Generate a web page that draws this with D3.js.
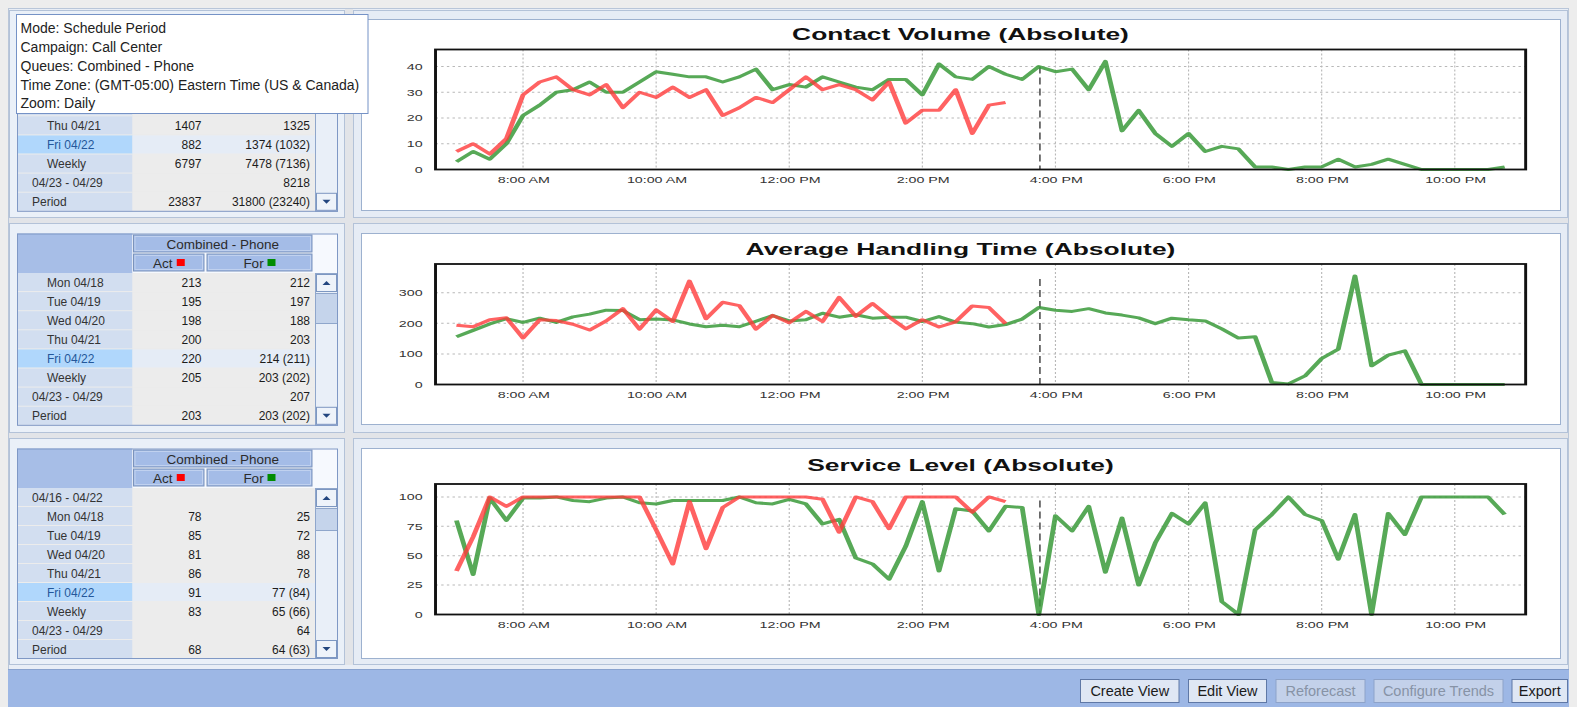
<!DOCTYPE html>
<html>
<head>
<meta charset="utf-8">
<script src="https://cdn.jsdelivr.net/npm/d3@7/dist/d3.min.js"></script>
<style>
  body { margin: 0; background: #ececec; overflow: hidden; }
  svg { display: block; }
</style>
</head>
<body>
<svg id="app" width="1577" height="707"></svg>
<script>
// ---------- data ----------
const firstSlot = "07:00", lastSlot = "22:45";   // 15 minute slots
const nowTime = "15:46";

const cvActual   = [7,10,6,12,29,34,36,31,29,33,24,30,28,32,28,31,21,24,28,26,31,36,31,33,31,27,34,18,23,23,31,14,25,26];
const cvForecast = [3,7,4,10,21,25,30,31,34,30,30,34,38,37,36,36,34,36,39,31,33,32,36,34,32,31,35,35,29,41,36,35,
                    40,37,35,40,38,39,31,42,15,23,14,9,14,7,9,8,1,1,0,1,1,4,1,2,4,2,0,0,0,0,0,1];
const ahtActual   = [194,189,212,218,152,212,209,197,178,208,248,181,244,206,338,215,269,258,181,226,202,239,206,285,
                     223,265,221,182,212,188,205,257,252,199];
const ahtForecast = [156,177,198,215,203,217,203,221,230,243,242,212,214,211,198,189,194,189,207,225,208,212,233,220,
                     228,217,220,220,206,222,204,199,188,196,214,252,243,239,248,234,227,218,199,217,212,208,182,152,
                     156,7,2,28,85,116,355,61,96,110,0,0,0,0,0,0];
const slActual   = [37,66,100,92,100,100,100,100,100,100,100,100,72,43,96,56,91,100,100,100,100,100,98,70,
                    100,96,73,100,100,100,100,87,100,96];
const slForecast = [80,34,99,80,99,99,100,97,96,99,100,95,94,97,97,97,97,100,95,94,98,94,77,81,48,43,30,58,96,37,90,88,
                    71,92,91,0,84,71,92,36,82,25,61,86,77,95,11,0,72,85,100,85,80,47,85,0,86,68,100,100,100,100,100,85];

const chartTitles = ["Contact Volume (Absolute)", "Average Handling Time (Absolute)", "Service Level (Absolute)"];
const cvTicks  = [0,10,20,30,40];
const ahtTicks = [0,100,200,300];
const slTicks  = [0,25,50,75,100];
const xTickLabels = ["8:00 AM","10:00 AM","12:00 PM","2:00 PM","4:00 PM","6:00 PM","8:00 PM","10:00 PM"];
const nowMarkerTop = [40, 345, 97];

const infoLines = ["Mode: Schedule Period", "Campaign: Call Center", "Queues: Combined - Phone",
                   "Time Zone: (GMT-05:00) Eastern Time (US & Canada)", "Zoom: Daily"];

const queueName = "Combined - Phone";
// first three rows of the contact volume table sit under the info box
const cvRowLabels = ["","","","Thu 04/21","Fri 04/22","Weekly","04/23 - 04/29","Period"];
const cvRowAct    = ["","","","1407","882","6797","","23837"];
const cvRowFor    = ["","","","1325","1374 (1032)","7478 (7136)","8218","31800 (23240)"];
const ahtRowLabels = ["Mon 04/18","Tue 04/19","Wed 04/20","Thu 04/21","Fri 04/22","Weekly","04/23 - 04/29","Period"];
const ahtRowAct    = ["213","195","198","200","220","205","","203"];
const ahtRowFor    = ["212","197","188","203","214 (211)","203 (202)","207","203 (202)"];
const slRowLabels = ["04/16 - 04/22","Mon 04/18","Tue 04/19","Wed 04/20","Thu 04/21","Fri 04/22","Weekly","04/23 - 04/29","Period"];
const slRowAct    = ["","78","85","81","86","91","83","","68"];
const slRowFor    = ["","25","72","88","78","77 (84)","65 (66)","64","64 (63)"];

const buttonLabels  = ["Create View","Edit View","Reforecast","Configure Trends","Export"];
const buttonEnabled = [true, true, false, false, true];

// ---------- setup ----------
const FONT = "'Liberation Sans', Arial, sans-serif";
const svg = d3.select("#app");
const parseSlot = d3.timeParse("%H:%M");
const parseTick = d3.timeParse("%I:%M %p");
const slots = d3.timeMinute.every(15).range(parseSlot(firstSlot), new Date(+parseSlot(lastSlot) + 60000));
const xTicks = xTickLabels.map(parseTick);

svg.append("rect").attr("width", 1577).attr("height", 707).attr("fill", "#ededed");
// main container
svg.append("rect").attr("x", 8.5).attr("y", 8.5).attr("width", 1560).attr("height", 662)
  .attr("fill", "#e9eef6").attr("stroke", "#b9c6d9");

const rows = [{top: 10, bottom: 217}, {top: 223, bottom: 432}, {top: 438, bottom: 664}];
rows.forEach(function (r) {
  svg.append("rect").attr("x", 9.5).attr("y", r.top + .5).attr("width", 335).attr("height", r.bottom - r.top)
    .attr("fill", "#eaf0f8").attr("stroke", "#b3c2d8");
  svg.append("rect").attr("x", 353.5).attr("y", r.top + .5).attr("width", 1214).attr("height", r.bottom - r.top)
    .attr("fill", "#e6ecf5").attr("stroke", "#b3c2d8");
});
// dividers
svg.append("rect").attr("x", 345).attr("y", 9).attr("width", 8).attr("height", 656).attr("fill", "#e2e4e8");
[217, 432].forEach(function (y) {
  svg.append("rect").attr("x", 9).attr("y", y + 1).attr("width", 1559).attr("height", 5).attr("fill", "#e2e4e8");
});

// ---------- charts ----------
const sx = 1.62;   // chart images are stretched horizontally
const charts = [
  {title: chartTitles[0], act: cvActual, fc: cvForecast, ticks: cvTicks, box: [361, 19, 1199, 191], top: 30.5, bottom: 40.5, titleY: 21, now: nowMarkerTop[0]},
  {title: chartTitles[1], act: ahtActual, fc: ahtForecast, ticks: ahtTicks, box: [361, 233, 1199, 191], top: 31, bottom: 39.5, titleY: 22.5, now: nowMarkerTop[1]},
  {title: chartTitles[2], act: slActual, fc: slForecast, ticks: slTicks, box: [361, 448, 1199, 210], top: 36, bottom: 43.5, titleY: 23.5, now: nowMarkerTop[2]}
];

charts.forEach(function (c) {
  const [bx, by, bw, bh] = c.box;
  svg.append("rect").attr("x", bx + .5).attr("y", by + .5).attr("width", bw).attr("height", bh)
    .attr("fill", "#fff").attr("stroke", "#9db1cf");

  const W = bw / sx, ml = 46, mr = 21.2;
  const g = svg.append("g").attr("transform", "translate(" + bx + "," + by + ") scale(" + sx + ",1)");

  const t0 = slots[0], t1 = slots[slots.length - 1], pad = (t1 - t0) * 0.02;
  const x = d3.scaleTime().domain([new Date(+t0 - pad), new Date(+t1 + pad)]).range([ml, W - mr]);
  const ymax = d3.max(c.fc.concat(c.act)) * 1.11;
  const y = d3.scaleLinear().domain([0, ymax]).range([bh - c.bottom, c.top]);

  g.append("text").attr("x", W / 2).attr("y", c.titleY).attr("text-anchor", "middle")
    .attr("font-family", FONT).attr("font-weight", "bold").attr("font-size", "16.3px").attr("fill", "#111")
    .text(c.title);

  // grid
  g.selectAll(".vg").data(xTicks).enter().append("line")
    .attr("x1", d => x(d)).attr("x2", d => x(d)).attr("y1", y(ymax)).attr("y2", y(0))
    .attr("stroke", "#b8b8b8").attr("stroke-width", 0.7).attr("stroke-dasharray", "2,2");
  g.selectAll(".hg").data(c.ticks).enter().append("line")
    .attr("x1", x.range()[0]).attr("x2", x.range()[1]).attr("y1", d => y(d)).attr("y2", d => y(d))
    .attr("stroke", "#b8b8b8").attr("stroke-width", 1).attr("stroke-dasharray", "1.5,2");

  // axes
  const xa = g.append("g").attr("transform", "translate(0," + y(0) + ")")
    .call(d3.axisBottom(x).tickValues(xTicks).tickFormat((d, i) => xTickLabels[i]).tickSize(0).tickPadding(7));
  const ya = g.append("g").attr("transform", "translate(" + ml + ",0)")
    .call(d3.axisLeft(y).tickValues(c.ticks).tickSize(0).tickPadding(8));
  [xa, ya].forEach(function (a) {
    a.select(".domain").remove();
    a.selectAll("text").attr("font-family", FONT).attr("font-size", "8.8px").attr("fill", "#333");
  });

  // current time marker
  const tn = parseSlot(nowTime);
  g.append("line").attr("x1", x(tn)).attr("x2", x(tn)).attr("y1", y(c.now)).attr("y2", y(0))
    .attr("stroke", "#555").attr("stroke-width", 1).attr("stroke-dasharray", "7,4");

  const line = d3.line().x((d, i) => x(slots[i])).y(d => y(d));
  g.append("path").datum(c.fc).attr("d", line).attr("fill", "none")
    .attr("stroke", "#3a9a3a").attr("stroke-opacity", 0.85).attr("stroke-width", 3).attr("stroke-linejoin", "round");
  g.append("path").datum(c.act).attr("d", line).attr("fill", "none")
    .attr("stroke", "#ff3b3b").attr("stroke-opacity", 0.8).attr("stroke-width", 3).attr("stroke-linejoin", "round");

  // frame
  g.append("rect").attr("x", ml).attr("y", y(ymax)).attr("width", W - mr - ml).attr("height", y(0) - y(ymax))
    .attr("fill", "none").attr("stroke", "#111").attr("stroke-width", 1.8);
});

// ---------- tables ----------
function drawTable(top, labels, act, fcs, opt) {
  const g = svg.append("g");
  const L = 17, C1 = 132.5, C2 = 315, R = 338, hh = 39.5, rh = opt.rowH;
  const h = hh + labels.length * rh;

  g.append("rect").attr("x", L).attr("y", top).attr("width", R - L).attr("height", h).attr("fill", "#ececec");
  // header
  g.append("rect").attr("x", L).attr("y", top).attr("width", C1 - L).attr("height", hh).attr("fill", "#a7bee7");
  g.append("rect").attr("x", C1).attr("y", top).attr("width", R - C1).attr("height", hh).attr("fill", "#f6f9fe");
  if (opt.header) {
    const hb = [[C1 + 1, top + 1.5, 178.5, 17, queueName, null],
                [C1 + 1, top + 20.5, 70.5, 17, "Act", "#ff0000"],
                [C1 + 74.5, top + 20.5, 105, 17, "For", "#008c00"]];
    hb.forEach(function (b) {
      g.append("rect").attr("x", b[0]).attr("y", b[1]).attr("width", b[2]).attr("height", b[3])
        .attr("fill", "#a4bce7").attr("stroke", "#7b93bb");
      g.append("rect").attr("x", b[0] + 1.5).attr("y", b[1] + 1.5).attr("width", b[2] - 3).attr("height", b[3] - 3)
        .attr("fill", "none").attr("stroke", "#c7d6f0").attr("stroke-width", 0.8);
      const tx = b[5] ? b[0] + b[2] / 2 - 6 : b[0] + b[2] / 2;
      g.append("text").attr("x", tx).attr("y", b[1] + 13.5).attr("text-anchor", "middle")
        .attr("font-family", FONT).attr("font-size", "13.5px").attr("fill", "#2b2b2b").text(b[4]);
      if (b[5]) {
        g.append("rect").attr("x", tx + 14).attr("y", b[1] + 5).attr("width", 8).attr("height", 7).attr("fill", b[5]);
      }
    });
  }

  labels.forEach(function (lab, i) {
    const ry = top + hh + i * rh, hl = (i === opt.hl);
    g.append("rect").attr("x", L).attr("y", ry).attr("width", C1 - L).attr("height", rh - 1)
      .attr("fill", hl ? "#b0d7fc" : "#d2def0");
    g.append("rect").attr("x", C1).attr("y", ry).attr("width", C2 - C1).attr("height", rh - 1)
      .attr("fill", hl ? "#e5ecf6" : "#ececec");
    if (lab) {
      g.append("text").attr("x", opt.levels[i] ? 47 : 32).attr("y", ry + 13.5)
        .attr("font-family", FONT).attr("font-size", "12px").attr("fill", hl ? "#24579a" : "#333").text(lab);
    }
    if (act[i]) {
      g.append("text").attr("x", 201.5).attr("y", ry + 13.5).attr("text-anchor", "end")
        .attr("font-family", FONT).attr("font-size", "12px").attr("fill", "#1c1c1c").text(act[i]);
    }
    if (fcs[i]) {
      g.append("text").attr("x", 310).attr("y", ry + 13.5).attr("text-anchor", "end")
        .attr("font-family", FONT).attr("font-size", "12px").attr("fill", "#1c1c1c").text(fcs[i]);
    }
  });

  // scrollbar
  const sTop = top + hh, sBot = top + h;
  g.append("rect").attr("x", C2 + .5).attr("y", sTop + .5).attr("width", R - C2 - 1).attr("height", sBot - sTop - 1)
    .attr("fill", "#e9eff8").attr("stroke", "#8fa6cb");
  g.append("rect").attr("x", C2 + .5).attr("y", opt.thumb[0] + .5).attr("width", R - C2 - 1).attr("height", opt.thumb[1])
    .attr("fill", "#c5d4eb").attr("stroke", "#8fa6cb");
  [[sTop + .5, "M-4,2 L4,2 L0,-2 Z"], [sBot - 19.5, "M-4,-2 L4,-2 L0,2 Z"]].forEach(function (b) {
    g.append("rect").attr("x", C2 + 1.5).attr("y", b[0] + 1).attr("width", R - C2 - 3).attr("height", 17)
      .attr("fill", "#eef3fa").attr("stroke", "#7d97c1");
    g.append("path").attr("d", b[1]).attr("fill", "#23467f")
      .attr("transform", "translate(" + ((C2 + R) / 2) + "," + (b[0] + 9.5) + ")");
  });
  g.append("rect").attr("x", L + .5).attr("y", top + .5).attr("width", R - L - 1).attr("height", h - 1)
    .attr("fill", "none").attr("stroke", "#7f98c5");
}

drawTable(19.5, cvRowLabels, cvRowAct, cvRowFor, {rowH: 19.1, hl: 4, header: false, levels: [1,1,1,1,1,1,0,0], thumb: [78, 30]});
drawTable(233.5, ahtRowLabels, ahtRowAct, ahtRowFor, {rowH: 19.1, hl: 4, header: true, levels: [1,1,1,1,1,1,0,0], thumb: [293, 30]});
drawTable(448.5, slRowLabels, slRowAct, slRowFor, {rowH: 19, hl: 5, header: true, levels: [0,1,1,1,1,1,1,0,0], thumb: [508, 22]});

// ---------- info tooltip ----------
svg.append("rect").attr("x", 16.5).attr("y", 14.5).attr("width", 351.5).attr("height", 99)
  .attr("fill", "#fff").attr("stroke", "#7592c6");
svg.selectAll(".info").data(infoLines).enter().append("text")
  .attr("x", 20.5).attr("y", (d, i) => 33.3 + i * 18.75)
  .attr("font-family", FONT).attr("font-size", "14px").attr("fill", "#222").text(d => d);

// ---------- toolbar ----------
svg.append("rect").attr("x", 8).attr("y", 669).attr("width", 1561).attr("height", 38).attr("fill", "#9db7e5");
svg.append("line").attr("x1", 8).attr("x2", 1569).attr("y1", 669.5).attr("y2", 669.5).attr("stroke", "#8aa3cf");
const btnX = [1080, 1188, 1275.5, 1373.5, 1511.5], btnW = [98.5, 78, 89, 129, 55.5];
buttonLabels.forEach(function (lab, i) {
  svg.append("rect").attr("x", btnX[i] + .5).attr("y", 679.5).attr("width", btnW[i]).attr("height", 23)
    .attr("fill", buttonEnabled[i] ? "#dfe7f4" : "#c3d1ea").attr("stroke", buttonEnabled[i] ? "#5f78a6" : "#8ea3c9");
  svg.append("text").attr("x", btnX[i] + btnW[i] / 2 + .5).attr("y", 696).attr("text-anchor", "middle")
    .attr("font-family", FONT).attr("font-size", "14.5px").attr("fill", buttonEnabled[i] ? "#1b1b1b" : "#8793a6")
    .text(lab);
});
</script>
</body>
</html>
